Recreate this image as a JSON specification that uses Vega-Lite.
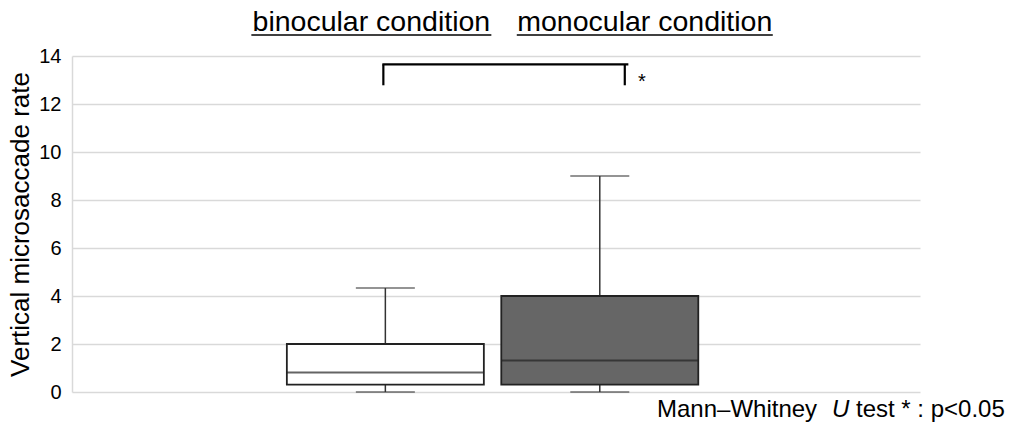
{
  "$schema": "https://vega.github.io/schema/vega-lite/v6.json",
  "width": 848,
  "height": 336,
  "autosize": {"type": "none"},
  "padding": {"left": 72, "top": 56, "right": 98, "bottom": 42},
  "background": "white",
  "config": {
    "font": "Liberation Sans",
    "view": {"stroke": null},
    "text": {"font": "Liberation Sans", "color": "#000000"}
  },
  "datasets": {
    "boxes": [
      {"cond": "binocular condition", "idx": 1, "lower": 0, "q1": 0.31, "median": 0.81, "q3": 2.0, "upper": 4.33},
      {"cond": "monocular condition", "idx": 2, "lower": 0, "q1": 0.31, "median": 1.31, "q3": 4.0, "upper": 9.0}
    ]
  },
  "data": {"name": "boxes"},
  "encoding": {
    "x": {
      "field": "idx",
      "type": "quantitative",
      "scale": {"domain": [-0.438, 3.47], "nice": false, "zero": false},
      "axis": null
    }
  },
  "layer": [
    {
      "mark": {"type": "rule", "color": "#333333", "strokeWidth": 1.5},
      "encoding": {
        "y": {
          "field": "lower",
          "type": "quantitative",
          "scale": {"domain": [0, 14], "nice": false, "zero": true},
          "axis": {
            "values": [0, 2, 4, 6, 8, 10, 12, 14],
            "grid": true,
            "gridColor": "#d9d9d9",
            "gridWidth": 1.5,
            "domain": true,
            "domainColor": "#d9d9d9",
            "domainWidth": 1.5,
            "ticks": false,
            "labelFont": "Liberation Sans",
            "labelFontSize": 20,
            "labelColor": "#000000",
            "labelPadding": 11,
            "title": "Vertical microsaccade rate",
            "titleFont": "Liberation Sans",
            "titleFontSize": 26,
            "titleFontWeight": "normal",
            "titleColor": "#000000",
            "titleAngle": -90,
            "titleBaseline": "alphabetic",
            "titleX": -44,
            "titleY": 168,
            "titleAlign": "center"
          }
        },
        "y2": {"field": "upper"}
      }
    },
    {
      "mark": {"type": "tick", "orient": "horizontal", "color": "#333333", "thickness": 1.5, "size": 59},
      "encoding": {"y": {"field": "lower", "type": "quantitative"}}
    },
    {
      "mark": {"type": "tick", "orient": "horizontal", "color": "#333333", "thickness": 1.5, "size": 59},
      "encoding": {"y": {"field": "upper", "type": "quantitative"}}
    },
    {
      "mark": {"type": "bar", "orient": "vertical", "size": 197, "stroke": "#222222", "strokeWidth": 1.8, "opacity": 1},
      "encoding": {
        "y": {"field": "q1", "type": "quantitative"},
        "y2": {"field": "q3"},
        "fill": {
          "field": "cond",
          "type": "nominal",
          "scale": {"domain": ["binocular condition", "monocular condition"], "range": ["#ffffff", "#666666"]},
          "legend": null
        }
      }
    },
    {
      "mark": {"type": "tick", "orient": "horizontal", "color": "#222222", "thickness": 2, "size": 197},
      "encoding": {"y": {"field": "median", "type": "quantitative"}}
    },
    {
      "transform": [{"filter": "datum.cond === 'binocular condition'"}],
      "mark": {"type": "text", "fontSize": 28.5, "align": "center", "baseline": "alphabetic", "dx": -14},
      "encoding": {"y": {"datum": 15.03}, "text": {"field": "cond"}}
    },
    {
      "transform": [{"filter": "datum.cond === 'monocular condition'"}],
      "mark": {"type": "text", "fontSize": 28.5, "align": "center", "baseline": "alphabetic", "dx": 45},
      "encoding": {"y": {"datum": 15.03}, "text": {"field": "cond"}}
    },
    {
      "transform": [{"filter": "datum.cond === 'binocular condition'"}],
      "mark": {"type": "rule", "color": "#000000", "strokeWidth": 1.5, "xOffset": -134, "x2Offset": 106},
      "encoding": {"x2": {"field": "idx"}, "y": {"datum": 14.88}}
    },
    {
      "transform": [{"filter": "datum.cond === 'monocular condition'"}],
      "mark": {"type": "rule", "color": "#000000", "strokeWidth": 1.5, "xOffset": -83, "x2Offset": 173},
      "encoding": {"x2": {"field": "idx"}, "y": {"datum": 14.88}}
    },
    {
      "transform": [{"filter": "datum.cond === 'binocular condition'"}],
      "mark": {"type": "rule", "color": "#000000", "strokeWidth": 2.2, "xOffset": -2},
      "encoding": {"y": {"datum": 12.78}, "y2": {"datum": 13.65}}
    },
    {
      "transform": [{"filter": "datum.cond === 'monocular condition'"}],
      "mark": {"type": "rule", "color": "#000000", "strokeWidth": 2.2, "xOffset": 25},
      "encoding": {"y": {"datum": 12.78}, "y2": {"datum": 13.65}}
    },
    {
      "transform": [{"filter": "datum.cond === 'binocular condition'"}],
      "mark": {"type": "rule", "color": "#000000", "strokeWidth": 2.2, "xOffset": -3, "x2Offset": 243},
      "encoding": {"x2": {"field": "idx"}, "y": {"datum": 13.65}}
    },
    {
      "transform": [{"filter": "datum.cond === 'monocular condition'"}],
      "mark": {"type": "text", "fontSize": 20, "align": "center", "baseline": "alphabetic", "dx": 42},
      "encoding": {"y": {"datum": 12.68}, "text": {"value": "*"}}
    },
    {
      "data": {"values": [{"part": "Mann–Whitney"}]},
      "mark": {"type": "text", "fontSize": 24, "align": "left", "baseline": "alphabetic", "dx": -263},
      "encoding": {"x": {"value": "width"}, "y": {"datum": -1.05}, "text": {"field": "part"}}
    },
    {
      "data": {"values": [{"part": "U"}]},
      "mark": {"type": "text", "fontSize": 24, "fontStyle": "italic", "align": "left", "baseline": "alphabetic", "dx": -88},
      "encoding": {"x": {"value": "width"}, "y": {"datum": -1.05}, "text": {"field": "part"}}
    },
    {
      "data": {"values": [{"part": "test * : p<0.05"}]},
      "mark": {"type": "text", "fontSize": 24, "align": "left", "baseline": "alphabetic", "dx": -64},
      "encoding": {"x": {"value": "width"}, "y": {"datum": -1.05}, "text": {"field": "part"}}
    }
  ]
}
